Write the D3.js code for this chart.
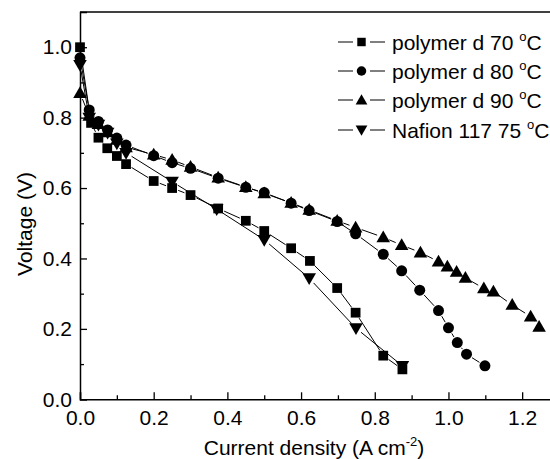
<html>
<head>
<script src="https://cdn.jsdelivr.net/npm/d3@7"></script>
<style>
  body { margin: 0; background: #fff; }
  text { font-family: "Liberation Sans", Arial, sans-serif; fill: #000; }
</style>
</head>
<body>
<svg id="chart" width="550" height="459"></svg>
<script>
// polymer d 70 C (squares)
var sqI = [0.0, 0.03, 0.05, 0.074, 0.1, 0.125, 0.2, 0.25, 0.3, 0.375, 0.45, 0.5, 0.573, 0.624, 0.698, 0.748, 0.823, 0.875];
var sqV = [1.0, 0.785, 0.743, 0.713, 0.691, 0.668, 0.62, 0.6, 0.58, 0.542, 0.507, 0.478, 0.429, 0.393, 0.316, 0.246, 0.124, 0.085];
// polymer d 80 C (circles)
var ciI = [0.0, 0.025, 0.05, 0.075, 0.1, 0.125, 0.2, 0.25, 0.3, 0.375, 0.45, 0.5, 0.573, 0.622, 0.698, 0.748, 0.823, 0.873, 0.922, 0.973, 1.0, 1.024, 1.049, 1.099];
var ciV = [0.97, 0.822, 0.789, 0.765, 0.742, 0.722, 0.692, 0.672, 0.656, 0.628, 0.602, 0.587, 0.557, 0.536, 0.505, 0.47, 0.412, 0.365, 0.31, 0.252, 0.203, 0.161, 0.128, 0.095];
// polymer d 90 C (up triangles)
var trI = [0.0, 0.025, 0.05, 0.075, 0.1, 0.125, 0.2, 0.25, 0.3, 0.375, 0.45, 0.5, 0.573, 0.622, 0.698, 0.748, 0.823, 0.873, 0.924, 0.973, 0.997, 1.022, 1.046, 1.096, 1.122, 1.173, 1.223, 1.246];
var trV = [0.87, 0.805, 0.782, 0.758, 0.737, 0.716, 0.695, 0.68, 0.66, 0.63, 0.603, 0.585, 0.558, 0.538, 0.507, 0.488, 0.46, 0.438, 0.417, 0.391, 0.377, 0.362, 0.345, 0.315, 0.306, 0.268, 0.235, 0.206];
// Nafion 117 75 C (down triangles)
var naI = [0.0, 0.025, 0.05, 0.075, 0.1, 0.125, 0.25, 0.371, 0.5, 0.622, 0.749, 0.875];
var naV = [0.95, 0.8, 0.78, 0.757, 0.727, 0.70, 0.618, 0.54, 0.453, 0.344, 0.202, 0.095];

var names = ["polymer d 70 ", "polymer d 80 ", "polymer d 90 ", "Nafion 117 75 "];
var xTicks = [0.0, 0.2, 0.4, 0.6, 0.8, 1.0, 1.2];
var yTicks = [0.0, 0.2, 0.4, 0.6, 0.8, 1.0];

var series = [
  { name: names[0], sym: d3.symbolSquare, size: 95, rot: 0, pts: sqI.map((d, i) => [d, sqV[i]]) },
  { name: names[1], sym: d3.symbolCircle, size: 95, rot: 0, pts: ciI.map((d, i) => [d, ciV[i]]) },
  { name: names[2], sym: d3.symbolTriangle, size: 80, rot: 0, pts: trI.map((d, i) => [d, trV[i]]) },
  { name: names[3], sym: d3.symbolTriangle, size: 80, rot: 180, pts: naI.map((d, i) => [d, naV[i]]) }
];

var fs = "21px";
var svg = d3.select("#chart");
var x = d3.scaleLinear().domain([0, 1.3]).range([80, 559]);
var y = d3.scaleLinear().domain([0, 1.1]).range([399.3, 12]);

// frame (top)
svg.append("line").attr("x1", 80).attr("x2", 559).attr("y1", 12).attr("y2", 12)
  .attr("stroke", "#000").attr("stroke-width", 1.5);

// bottom axis
svg.append("g").attr("transform", "translate(0," + y(0) + ")")
  .call(d3.axisBottom(x).tickValues(xTicks).tickSize(-7).tickPadding(11).tickFormat(d3.format(".1f")));
svg.append("g").attr("transform", "translate(0," + y(0) + ")")
  .call(d3.axisBottom(x).tickValues(d3.range(0.1, 1.3, 0.2)).tickSize(-4).tickFormat(""))
  .select(".domain").remove();
// left axis
svg.append("g").attr("transform", "translate(80,0)")
  .call(d3.axisLeft(y).tickValues(yTicks).tickSize(-7).tickPadding(8).tickFormat(d3.format(".1f")));
svg.append("g").attr("transform", "translate(80,0)")
  .call(d3.axisLeft(y).tickValues(d3.range(0.1, 1.1, 0.2)).tickSize(-4).tickFormat(""))
  .select(".domain").remove();

svg.selectAll(".domain").attr("stroke-width", 1.5);
svg.selectAll(".tick line").attr("stroke-width", 1.3);
svg.selectAll(".tick text").style("font-size", fs).style("font-family", "Liberation Sans, Arial, sans-serif");

// connecting lines, with a gap around each symbol
var gap = 6.5;
series.forEach(function (s) {
  var p = s.pts.map(d => [x(d[0]), y(d[1])]);
  for (var i = 0; i < p.length - 1; i++) {
    var dx = p[i + 1][0] - p[i][0], dy = p[i + 1][1] - p[i][1];
    var len = Math.sqrt(dx * dx + dy * dy);
    if (len <= 2 * gap) continue;
    var ux = dx / len, uy = dy / len;
    svg.append("line")
      .attr("x1", p[i][0] + ux * gap).attr("y1", p[i][1] + uy * gap)
      .attr("x2", p[i + 1][0] - ux * gap).attr("y2", p[i + 1][1] - uy * gap)
      .attr("stroke", "#000").attr("stroke-width", 1);
  }
});

// symbols
series.forEach(function (s) {
  svg.append("g").selectAll("path").data(s.pts).enter().append("path")
    .attr("d", d3.symbol().type(s.sym).size(s.size))
    .attr("transform", d => "translate(" + x(d[0]) + "," + (y(d[1]) + (s.sym === d3.symbolTriangle ? (s.rot ? -1 : 1) : 0)) + ") rotate(" + s.rot + ")")
    .attr("fill", "#000");
});

// legend
var legY = [42, 71, 100, 130];
series.forEach(function (s, i) {
  var g = svg.append("g").attr("transform", "translate(0," + legY[i] + ")");
  g.append("line").attr("x1", 338).attr("x2", 353).attr("y1", 0).attr("y2", 0).attr("stroke", "#000");
  g.append("line").attr("x1", 370).attr("x2", 385).attr("y1", 0).attr("y2", 0).attr("stroke", "#000");
  g.append("path").attr("d", d3.symbol().type(s.sym).size(s.size * 0.75))
    .attr("transform", "translate(361.5," + (s.sym === d3.symbolTriangle ? (s.rot ? -1 : 1) : 0) + ") rotate(" + s.rot + ")");
  var t = g.append("text").attr("x", 392).attr("y", 7.5).style("font-size", fs).text(s.name);
  t.append("tspan").attr("dy", -9).style("font-size", "13px").text("o");
  t.append("tspan").attr("dy", 9).text("C");
});

// axis titles
var xt = svg.append("text").attr("x", 314).attr("y", 455).attr("text-anchor", "middle")
  .style("font-size", fs).text("Current density (A cm");
xt.append("tspan").attr("dy", -9).style("font-size", "13px").text("-2");
xt.append("tspan").attr("dy", 9).text(")");

svg.append("text").attr("transform", "translate(32,224) rotate(-90)").attr("text-anchor", "middle")
  .style("font-size", fs).text("Voltage (V)");
</script>
</body>
</html>
